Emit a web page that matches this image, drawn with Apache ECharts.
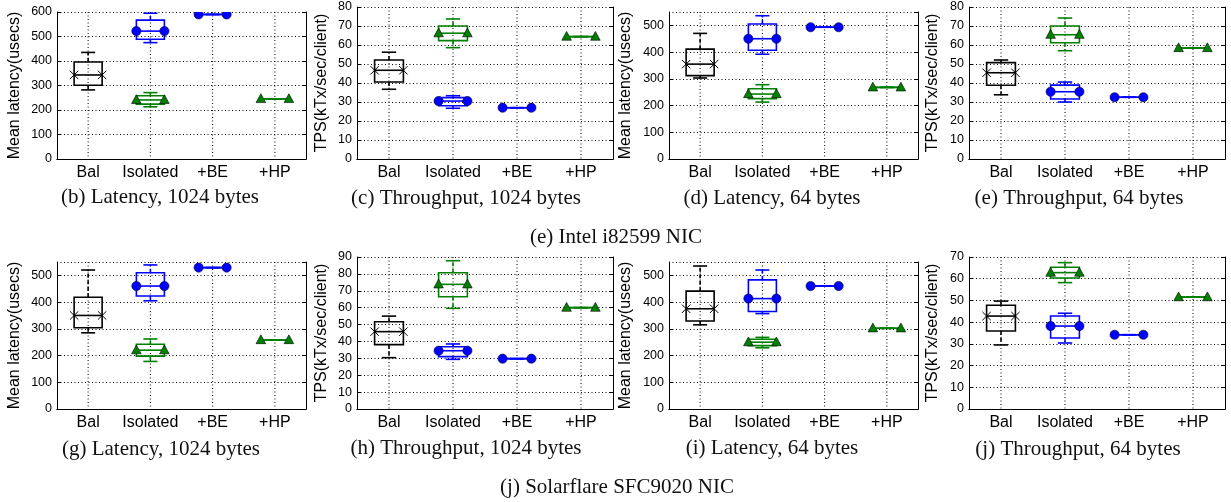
<!DOCTYPE html>
<html>
<head>
<meta charset="utf-8">
<script src="https://cdn.jsdelivr.net/npm/echarts@6/dist/echarts.min.js"></script>
<style>
html,body{margin:0;padding:0;background:#fff;}
#chart{width:1231px;height:502px;}
</style>
</head>
<body>
<div id="chart"></div>
<script>
// ---- data ----
const categories = ['Bal', 'Isolated', '+BE', '+HP'];

// box values: [lowCap, q1, median, q3, highCap]
// Intel i82599, latency 1024 bytes (usecs)
const bBal = [282, 301, 343, 396, 435];
const bIsoBE = [475, 489, 522, 567, 595];
const bIsoHP = [213, 224, 241, 258, 271];
const bPlusBE = 590;
const bPlusHP = 245;
// Intel i82599, throughput 1024 bytes
const cBal = [36.7, 40.5, 46.7, 52.1, 56.2];
const cIsoBE = [26.7, 28.0, 30.5, 32.3, 33.3];
const cIsoHP = [58.6, 62.3, 66.2, 70.0, 73.7];
const cPlusBE = 27;
const cPlusHP = 64.4;
// Intel i82599, latency 64 bytes
const dBal = [303, 312, 355, 411, 470];
const dIsoBE = [392, 407, 450, 505, 536];
const dIsoHP = [213, 226, 243, 263, 278];
const dPlusBE = 493;
const dPlusHP = 268;
// Intel i82599, throughput 64 bytes
const eBal = [33.8, 38.8, 45.4, 50.7, 52.1];
const eIsoBE = [30.0, 31.6, 35.4, 38.9, 40.5];
const eIsoHP = [57.0, 61.2, 65.4, 70.0, 74.2];
const ePlusBE = 32.5;
const ePlusHP = 58.4;
// Solarflare SFC9020, latency 1024 bytes
const gBal = [285, 304, 350, 418, 520];
const gIsoBE = [405, 423, 460, 510, 539];
const gIsoHP = [178, 198, 220, 242, 262];
const gPlusBE = 529;
const gPlusHP = 258;
// Solarflare SFC9020, throughput 1024 bytes
const hBal = [30.4, 38.1, 45.8, 51.7, 55.0];
const hIsoBE = [29.4, 31.0, 34.5, 36.9, 38.5];
const hIsoHP = [59.6, 66.5, 73.8, 80.7, 87.8];
const hPlusBE = 29.8;
const hPlusHP = 60;
// Solarflare SFC9020, latency 64 bytes
const iBal = [315, 329, 375, 441, 535];
const iIsoBE = [357, 365, 413, 483, 520];
const iIsoHP = [229, 237, 250, 261, 268];
const iPlusBE = 460;
const iPlusHP = 302;
// Solarflare SFC9020, throughput 64 bytes
const jBal = [29.5, 35.9, 42.8, 47.8, 49.7];
const jIsoBE = [30.4, 32.7, 38.2, 42.8, 44.1];
const jIsoHP = [58.2, 60.3, 62.8, 65.3, 67.4];
const jPlusBE = 34.2;
const jPlusHP = 51.5;

const latName = 'Mean latency(usecs)';
const tpsName = 'TPS(kTx/sec/client)';

// ---- layout ----
const panels = [
  {bal:bBal, isoBE:bIsoBE, isoHP:bIsoHP, be:bPlusBE, hp:bPlusHP, max:600, step:100, name:latName, gap:34, left:57, top:12, w:249, h:147, cap:'(b) Latency, 1024 bytes', cx:160, cy:197},
  {bal:cBal, isoBE:cIsoBE, isoHP:cIsoHP, be:cPlusBE, hp:cPlusHP, max:80, step:10, name:tpsName, gap:27, left:357, top:7, w:256, h:152, cap:'(c) Throughput, 1024 bytes', cx:466, cy:198},
  {bal:dBal, isoBE:dIsoBE, isoHP:dIsoHP, be:dPlusBE, hp:dPlusHP, max:550, step:100, name:latName, gap:35, left:669, top:12, w:249, h:147, cap:'(d) Latency, 64 bytes', cx:772, cy:198},
  {bal:eBal, isoBE:eIsoBE, isoHP:eIsoHP, be:ePlusBE, hp:ePlusHP, max:80, step:10, name:tpsName, gap:28, left:969, top:7, w:256, h:152, cap:'(e) Throughput, 64 bytes', cx:1079, cy:198},
  {bal:gBal, isoBE:gIsoBE, isoHP:gIsoHP, be:gPlusBE, hp:gPlusHP, max:550, step:100, name:latName, gap:34, left:57, top:262, w:249, h:147, cap:'(g) Latency, 1024 bytes', cx:161, cy:449},
  {bal:hBal, isoBE:hIsoBE, isoHP:hIsoHP, be:hPlusBE, hp:hPlusHP, max:90, step:10, name:tpsName, gap:27, left:357, top:257, w:256, h:152, cap:'(h) Throughput, 1024 bytes', cx:466, cy:448},
  {bal:iBal, isoBE:iIsoBE, isoHP:iIsoHP, be:iPlusBE, hp:iPlusHP, max:550, step:100, name:latName, gap:35, left:669, top:262, w:249, h:147, cap:'(i) Latency, 64 bytes', cx:772, cy:448},
  {bal:jBal, isoBE:jIsoBE, isoHP:jIsoHP, be:jPlusBE, hp:jPlusHP, max:70, step:10, name:tpsName, gap:28, left:969, top:257, w:256, h:152, cap:'(j) Throughput, 64 bytes', cx:1078, cy:449}
];
const groupCaps = [
  {text:'(e) Intel i82599 NIC', x:616, y:237},
  {text:'(j) Solarflare SFC9020 NIC', x:617, y:487}
];

const SANS = '"Liberation Sans", Arial, sans-serif';
const SERIF = '"Liberation Serif", "Times New Roman", serif';
const BLACK = '#000000', BLUE = '#0000ff', GREEN = '#008000';
const DOT = [1, 2.5];

function markerShapes(kind, x, y, color) {
  if (kind === 'circle') {
    return [{type:'circle', shape:{cx:x, cy:y, r:4.6}, style:{fill:color, stroke:'#000033', lineWidth:0.6}}];
  }
  if (kind === 'triangle') {
    return [{type:'polygon', shape:{points:[[x, y-5.2],[x-4.8, y+3.6],[x+4.8, y+3.6]]}, style:{fill:color, stroke:'#000', lineWidth:0.6}}];
  }
  const s = 4.2;
  return [
    {type:'line', shape:{x1:x-s, y1:y-s, x2:x+s, y2:y+s}, style:{stroke:color, lineWidth:1}},
    {type:'line', shape:{x1:x-s, y1:y+s, x2:x+s, y2:y-s}, style:{stroke:color, lineWidth:1}}
  ];
}

function boxRenderer(color, marker) {
  return function (params, api) {
    const idx = api.value(0);
    const v = [1, 2, 3, 4, 5].map(i => api.value(i));
    const bw = api.size([1, 0])[0];
    const half = bw * 0.225, capHalf = bw * 0.1125;
    const cx = api.coord([idx, v[2]])[0];
    const Y = val => api.coord([idx, val])[1];
    const solid = {stroke:color, lineWidth:1.6, fill:null};
    const dash = {stroke:color, lineWidth:1.6, lineDash:[4, 2.5]};
    let children = [
      {type:'line', shape:{x1:cx, y1:Y(v[3]), x2:cx, y2:Y(v[4])}, style:dash},
      {type:'line', shape:{x1:cx, y1:Y(v[1]), x2:cx, y2:Y(v[0])}, style:dash},
      {type:'line', shape:{x1:cx-capHalf, y1:Y(v[4]), x2:cx+capHalf, y2:Y(v[4])}, style:solid},
      {type:'line', shape:{x1:cx-capHalf, y1:Y(v[0]), x2:cx+capHalf, y2:Y(v[0])}, style:solid},
      {type:'rect', shape:{x:cx-half, y:Y(v[3]), width:2*half, height:Y(v[1])-Y(v[3])}, style:solid},
      {type:'line', shape:{x1:cx-half, y1:Y(v[2]), x2:cx+half, y2:Y(v[2])}, style:solid}
    ];
    children = children.concat(markerShapes(marker, cx-half, Y(v[2]), color));
    children = children.concat(markerShapes(marker, cx+half, Y(v[2]), color));
    return {type:'group', children};
  };
}

function vGridRenderer(params, api) {
  const idx = api.value(0);
  const x = api.coord([idx, 0])[0];
  const cs = params.coordSys;
  return {type:'line', shape:{x1:x, y1:cs.y, x2:x, y2:cs.y+cs.height}, style:{stroke:'#000', lineWidth:1, lineDash:DOT}};
}

const flat = val => [val, val, val, val, val];

const grid = [], xAxis = [], yAxis = [], series = [], graphic = [];
panels.forEach((p, k) => {
  grid.push({left:p.left, top:p.top, width:p.w, height:p.h, containLabel:false});
  const exact = p.max % p.step === 0;
  xAxis.push({
    type:'category', gridIndex:k, data:categories, boundaryGap:true, position:'bottom',
    axisLine:{lineStyle:{color:BLACK, width:1}},
    axisTick:{inside:true, alignWithLabel:true, interval:0, length:4, lineStyle:{color:BLACK}},
    axisLabel:{color:BLACK, fontSize:16, fontFamily:SANS, margin:6, interval:0, hideOverlap:false},
    splitLine:{show:false}
  });
  xAxis.push({
    type:'category', gridIndex:k, data:categories, boundaryGap:true, position:'top',
    axisLine:{lineStyle:{color:BLACK, width:1}},
    axisTick:{inside:true, alignWithLabel:true, interval:0, length:4, lineStyle:{color:BLACK}},
    axisLabel:{show:false}, splitLine:{show:false}
  });
  yAxis.push({
    type:'value', gridIndex:k, min:0, max:p.max, interval:p.step, position:'left',
    name:p.name, nameLocation:'middle', nameGap:p.gap,
    nameTextStyle:{color:BLACK, fontSize:16, fontFamily:SANS},
    axisLine:{show:true, lineStyle:{color:BLACK, width:1}},
    axisTick:{show:true, inside:true, length:4, lineStyle:{color:BLACK}},
    axisLabel:{color:BLACK, fontSize:12.5, fontFamily:SANS, margin:5, showMaxLabel:exact},
    splitLine:{show:true, lineStyle:{color:BLACK, width:1, type:DOT}}
  });
  yAxis.push({
    type:'value', gridIndex:k, min:0, max:p.max, interval:p.step, position:'right',
    axisLine:{show:true, lineStyle:{color:BLACK, width:1}},
    axisTick:{show:true, inside:true, length:4, lineStyle:{color:BLACK}},
    axisLabel:{show:false}, splitLine:{show:false}
  });
  const xi = 2*k, yi = 2*k;
  series.push({
    type:'custom', xAxisIndex:xi, yAxisIndex:yi, z:1, silent:true,
    data:categories.map((c, i) => [i]), encode:{x:0}, renderItem:vGridRenderer
  });
  series.push({
    type:'custom', name:'Bal', xAxisIndex:xi, yAxisIndex:yi, z:3, clip:true, silent:true,
    data:[[0].concat(p.bal)], encode:{x:0, y:[1,2,3,4,5]},
    renderItem:boxRenderer(BLACK, 'x')
  });
  series.push({
    type:'custom', name:'BE', xAxisIndex:xi, yAxisIndex:yi, z:3, clip:true, silent:true,
    data:[[1].concat(p.isoBE), [2].concat(flat(p.be))], encode:{x:0, y:[1,2,3,4,5]},
    renderItem:boxRenderer(BLUE, 'circle')
  });
  series.push({
    type:'custom', name:'HP', xAxisIndex:xi, yAxisIndex:yi, z:4, clip:true, silent:true,
    data:[[1].concat(p.isoHP), [3].concat(flat(p.hp))], encode:{x:0, y:[1,2,3,4,5]},
    renderItem:boxRenderer(GREEN, 'triangle')
  });
  graphic.push({
    type:'text', x:p.cx, y:p.cy, silent:true,
    style:{text:p.cap, fill:'#111', font:'21px ' + SERIF, align:'center', verticalAlign:'middle'}
  });
});
groupCaps.forEach(g => {
  graphic.push({
    type:'text', x:g.x, y:g.y, silent:true,
    style:{text:g.text, fill:'#111', font:'21px ' + SERIF, align:'center', verticalAlign:'middle'}
  });
});

const chart = echarts.init(document.getElementById('chart'), null, {renderer:'canvas'});
chart.setOption({
  animation:false,
  backgroundColor:'#ffffff',
  grid, xAxis, yAxis, series, graphic
});
</script>
</body>
</html>
